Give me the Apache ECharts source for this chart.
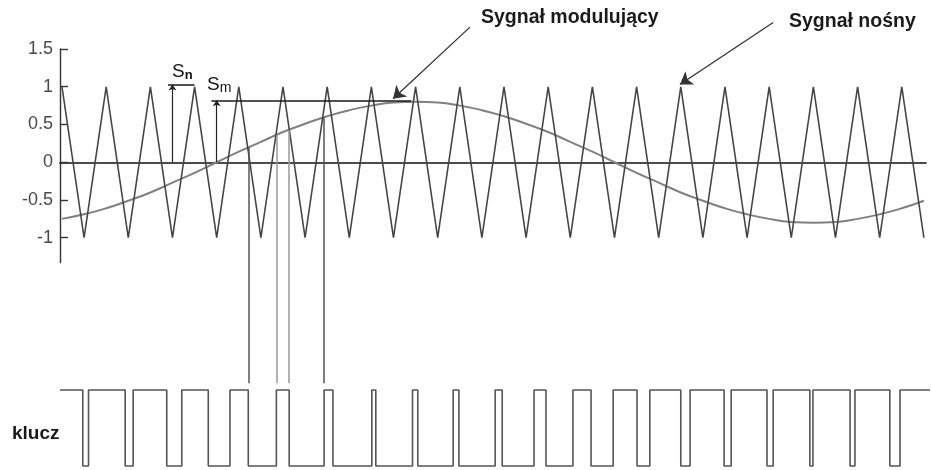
<!DOCTYPE html>
<html><head><meta charset="utf-8">
<script src="https://cdn.jsdelivr.net/npm/echarts@6/dist/echarts.min.js"></script>
<style>html,body{margin:0;padding:0;background:#fff}#c{width:932px;height:470px}</style>
</head><body><div id="c"></div>
<script>
// ---- data (x in carrier periods) ----
const yTickValues = [1.5, 1, 0.5, 0, -0.5, -1];
const carrierX = [0,0.5,1,1.5,2,2.5,3,3.5,4,4.5,5,5.5,6,6.5,7,7.5,8,8.5,9,9.5,10,10.5,11,11.5,12,12.5,13,13.5,14,14.5,15,15.5,16,16.5,17,17.5,18,18.5,19,19.5];
const carrierY = [1,-1,1,-1,1,-1,1,-1,1,-1,1,-1,1,-1,1,-1,1,-1,1,-1,1,-1,1,-1,1,-1,1,-1,1,-1,1,-1,1,-1,1,-1,1,-1,1,-1];
const modX = carrierX;
const modY = [-0.75,-0.69,-0.61,-0.51,-0.40,-0.27,-0.14,0,0.14,0.27,0.40,0.51,0.61,0.69,0.75,0.79,0.80,0.79,0.75,0.69,0.61,0.51,0.40,0.27,0.14,0,-0.14,-0.27,-0.40,-0.51,-0.61,-0.69,-0.75,-0.79,-0.80,-0.79,-0.75,-0.69,-0.61,-0.51];
// PWM ("klucz") toggle positions, starting high
const keyStartX = -0.045, keyEndX = 19.64;
const keyEdges = [0.47,0.6,1.43,1.61,2.37,2.71,3.31,3.8,4.215,4.85,5.14,5.93,6.13,7.01,7.1,7.93,8.05,8.85,8.98,9.8,9.96,10.68,10.95,11.56,11.97,12.47,13.01,13.3,14.0,14.21,14.98,15.14,15.95,16.09,16.92,16.99,17.83,17.94,18.73,18.96];
// projection lines from carrier/modulator crossings down to the PWM edges
const connectorX = [4.215, 4.85, 5.14, 5.93];
const connectorTopY = [0.2, 0.36, 0.43, 0.6];
// Sn / Sm guides
const snGuideX = 2.5, snLevel = 1.03, snHorizFrom = 2.4, snHorizTo = 3.0;
const smGuideX = 3.5, smLevel = 0.82, smHorizFrom = 3.38, smHorizTo = 7.9;
// annotation arrows [from, to]
const arrowModulator = [[9.23, 1.79], [7.49, 0.84]];
const arrowCarrier = [[16.09, 1.85], [13.98, 1.03]];

// ---- build ----
const carrierData = carrierX.map((x, i) => [x, carrierY[i]]);
const modData = modX.map((x, i) => [x, modY[i]]);
const keyData = [[keyStartX, 1]];
let lvl = 1;
keyEdges.forEach(e => { keyData.push([e, lvl]); lvl = 1 - lvl; keyData.push([e, lvl]); });
keyData.push([keyEndX, lvl]);

const PX_PER_UNIT = 44.2;
const Y_PX_PER_UNIT = 75.5;
const connectorBottom = (163 - 384) / Y_PX_PER_UNIT;

const chart = echarts.init(document.getElementById('c'), null, {renderer: 'canvas'});
const lineCol = '#444';
const option = {
  backgroundColor: '#fff',
  animation: false,
  grid: [
    {left: 60, top: 49, width: (19.55 + 0.045) * PX_PER_UNIT, height: 2.83 * Y_PX_PER_UNIT, outerBoundsMode: 'none', containLabel: false},
    {left: 60, top: 390, width: (keyEndX + 0.045) * PX_PER_UNIT, height: 76, outerBoundsMode: 'none', containLabel: false}
  ],
  xAxis: [
    {type: 'value', gridIndex: 0, min: -0.045, max: 19.55,
     axisLine: {onZero: true, lineStyle: {color: '#111', width: 1.6}},
     axisTick: {show: false}, axisLabel: {show: false}, splitLine: {show: false}},
    {type: 'value', gridIndex: 1, min: -0.045, max: keyEndX, show: false}
  ],
  yAxis: [
    {type: 'value', gridIndex: 0, min: -1.33, max: 1.5,
     axisLine: {show: true, onZero: false, lineStyle: {color: '#333', width: 1.4}},
     axisTick: {show: true, inside: true, length: 8, customValues: yTickValues, lineStyle: {color: '#333', width: 1.4}},
     axisLabel: {show: true, customValues: yTickValues, margin: 7, color: '#4a4a4a',
       fontFamily: 'Liberation Sans, Arial, sans-serif', fontSize: 18,
       formatter: v => String(v)},
     splitLine: {show: false}},
    {type: 'value', gridIndex: 1, min: 0, max: 1, show: false}
  ],
  series: [
    {type: 'line', name: 'Sygnał nośny', xAxisIndex: 0, yAxisIndex: 0, data: carrierData,
     showSymbol: false, lineStyle: {color: lineCol, width: 1.6}, z: 3},
    {type: 'line', name: 'Sygnał modulujący', xAxisIndex: 0, yAxisIndex: 0, data: modData,
     smooth: true, showSymbol: false, lineStyle: {color: '#808080', width: 2}, z: 2},
    {type: 'line', name: 'klucz', xAxisIndex: 1, yAxisIndex: 1, data: keyData, clip: false,
     showSymbol: false, lineStyle: {color: '#555', width: 1.6}},
    {type: 'lines', coordinateSystem: 'cartesian2d', xAxisIndex: 0, yAxisIndex: 0, clip: false,
     silent: true, z: 4,
     data: connectorX.map((x, i) => ({coords: [[x, connectorTopY[i]], [x, connectorBottom]],
       lineStyle: {color: (i === 1 || i === 2) ? '#999' : '#555', width: 1.5, opacity: 1}}))},
    {type: 'lines', coordinateSystem: 'cartesian2d', xAxisIndex: 0, yAxisIndex: 0, clip: false,
     silent: true, z: 5, symbol: ['none', 'none'],
     lineStyle: {color: '#1a1a1a', width: 1.5, opacity: 1},
     data: [
       {coords: [[snHorizFrom, snLevel], [snHorizTo, snLevel]]},
       {coords: [[smHorizFrom, smLevel], [smHorizTo, smLevel]]}
     ]},
    {type: 'lines', coordinateSystem: 'cartesian2d', xAxisIndex: 0, yAxisIndex: 0, clip: false,
     silent: true, z: 5, symbol: ['none', 'arrow'], symbolSize: 6,
     lineStyle: {color: '#222', width: 1.2, opacity: 1},
     data: [
       {coords: [[snGuideX, 0], [snGuideX, snLevel]]},
       {coords: [[smGuideX, 0], [smGuideX, smLevel]]}
     ]},
    {type: 'lines', coordinateSystem: 'cartesian2d', xAxisIndex: 0, yAxisIndex: 0, clip: false,
     silent: true, z: 6, symbol: ['none', 'arrow'], symbolSize: [9, 12],
     lineStyle: {color: '#333', width: 1.3, opacity: 1},
     data: [{coords: arrowModulator}, {coords: arrowCarrier}]}
  ],
  graphic: [
    {type: 'text', left: 481, top: 8, style: {text: 'Sygnał modulujący', fill: '#1a1a1a',
      font: 'bold 19.5px "Liberation Sans", Arial, sans-serif'}},
    {type: 'text', left: 789, top: 12, style: {text: 'Sygnał nośny', fill: '#1a1a1a',
      font: 'bold 19.5px "Liberation Sans", Arial, sans-serif'}},
    {type: 'text', left: 12, top: 424, style: {text: 'klucz', fill: '#1a1a1a',
      font: 'bold 19px "Liberation Sans", Arial, sans-serif'}},
    {type: 'text', left: 172, top: 62, style: {
      rich: {s: {fontSize: 19, fontFamily: 'Liberation Sans', fill: '#111'},
             sub: {fontSize: 13, fontFamily: 'Liberation Sans', fontWeight: 'bold', fill: '#111', padding: [7, 0, 0, 0]}},
      text: '{s|S}{sub|n}'}},
    {type: 'text', left: 207, top: 75, style: {
      rich: {s: {fontSize: 19, fontFamily: 'Liberation Sans', fill: '#111'},
             sub: {fontSize: 14, fontFamily: 'Liberation Sans', fill: '#111', padding: [7, 0, 0, 0]}},
      text: '{s|S}{sub|m}'}}
  ]
};
chart.setOption(option);
</script></body></html>
